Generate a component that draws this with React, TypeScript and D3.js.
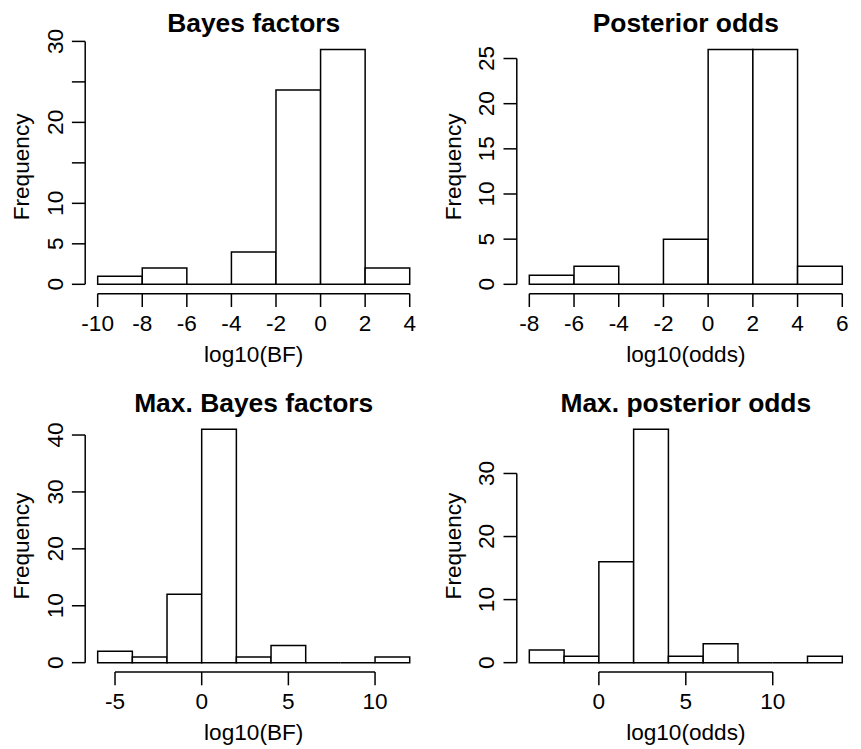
import React, { useEffect, useRef } from 'react';
import * as d3 from 'd3';

// histogram counts (bin width 2)
const bfBreakStart = -10;
const bfCounts = [1, 2, 0, 4, 24, 29, 2];
const oddsBreakStart = -8;
const oddsCounts = [1, 2, 0, 5, 26, 26, 2];
const maxBfBreakStart = -6;
const maxBfCounts = [2, 1, 12, 41, 1, 3, 0, 0, 1];
const maxOddsBreakStart = -4;
const maxOddsCounts = [2, 1, 16, 37, 1, 3, 0, 0, 1];
const binWidth = 2;

const titles = ['Bayes factors', 'Posterior odds', 'Max. Bayes factors', 'Max. posterior odds'];
const xLabels = ['log10(BF)', 'log10(odds)', 'log10(BF)', 'log10(odds)'];

const xTicks = [
	[-10, -8, -6, -4, -2, 0, 2, 4],
	[-8, -6, -4, -2, 0, 2, 4, 6],
	[-5, 0, 5, 10],
	[0, 5, 10]
];
const yTicks = [
	[0, 5, 10, 15, 20, 25, 30],
	[0, 5, 10, 15, 20, 25],
	[0, 10, 20, 30, 40],
	[0, 10, 20, 30]
];
// R drops labels that would overlap
const yTickLabels = [
	[0, 5, 10, 20, 30],
	[0, 5, 10, 15, 20, 25],
	[0, 10, 20, 30, 40],
	[0, 10, 20, 30]
];

const W = 861,
	H = 749;
const font = '"Liberation Sans", Arial, Helvetica, sans-serif';
const fs = 22.6;
const lw = 1.5;

const draw = (node: SVGSVGElement) => {
	const svg = d3.select(node);
	svg.selectAll('*').remove();

	const panels = [
		{ start: bfBreakStart, counts: bfCounts },
		{ start: oddsBreakStart, counts: oddsCounts },
		{ start: maxBfBreakStart, counts: maxBfCounts },
		{ start: maxOddsBreakStart, counts: maxOddsCounts }
	];

	// plot boxes of the 2x2 layout
	const cols = [ [ 85.2, 422.2 ], [ 516.8, 854.8 ] ];
	const rows = [ [ 40.1, 293.7 ], [ 420, 672 ] ];

	panels.forEach((p, i) => {
		const [ x0, x1 ] = cols[i % 2];
		const [ y0, y1 ] = rows[Math.floor(i / 2)];
		const breaks = d3.range(p.counts.length + 1).map((k) => p.start + k * binWidth);
		const lo = breaks[0],
			hi = breaks[breaks.length - 1];
		const pad = (hi - lo) * 0.04;
		const ymax = d3.max(p.counts) as number;

		const x = d3.scaleLinear().domain([ lo - pad, hi + pad ]).range([ x0, x1 ]);
		const y = d3.scaleLinear().domain([ -ymax * 0.04, ymax * 1.04 ]).range([ y1, y0 ]);

		const g = svg.append('g').attr('font-family', font).attr('fill', '#000');

		// bars as closed paths so empty bins still show a line at 0
		g
			.selectAll('path.bar')
			.data(p.counts)
			.join('path')
			.attr('class', 'bar')
			.attr('d', (d, k) => {
				const path = d3.path();
				path.rect(x(breaks[k]), y(d), x(breaks[k + 1]) - x(breaks[k]), y(0) - y(d));
				return path.toString();
			})
			.attr('fill', '#fff')
			.attr('stroke', '#000')
			.attr('stroke-width', lw);

		// x axis
		const xt = xTicks[i];
		g
			.append('line')
			.attr('x1', x(xt[0]))
			.attr('x2', x(xt[xt.length - 1]))
			.attr('y1', y1)
			.attr('y2', y1)
			.attr('stroke', '#000')
			.attr('stroke-width', lw);
		g
			.selectAll('line.xt')
			.data(xt)
			.join('line')
			.attr('class', 'xt')
			.attr('x1', (d) => x(d))
			.attr('x2', (d) => x(d))
			.attr('y1', y1)
			.attr('y2', y1 + 13.3)
			.attr('stroke', '#000')
			.attr('stroke-width', lw);
		g
			.selectAll('text.xl')
			.data(xt)
			.join('text')
			.attr('class', 'xl')
			.attr('x', (d) => x(d))
			.attr('y', y1 + 37)
			.attr('text-anchor', 'middle')
			.attr('font-size', fs)
			.text((d) => String(d));

		// y axis
		const yt = yTicks[i];
		g
			.append('line')
			.attr('x1', x0)
			.attr('x2', x0)
			.attr('y1', y(yt[0]))
			.attr('y2', y(yt[yt.length - 1]))
			.attr('stroke', '#000')
			.attr('stroke-width', lw);
		g
			.selectAll('line.yt')
			.data(yt)
			.join('line')
			.attr('class', 'yt')
			.attr('x1', x0)
			.attr('x2', x0 - 13.3)
			.attr('y1', (d) => y(d))
			.attr('y2', (d) => y(d))
			.attr('stroke', '#000')
			.attr('stroke-width', lw);
		g
			.selectAll('text.yl')
			.data(yTickLabels[i])
			.join('text')
			.attr('class', 'yl')
			.attr('transform', (d) => `translate(${x0 - 22.5},${y(d)}) rotate(-90)`)
			.attr('text-anchor', 'middle')
			.attr('font-size', fs)
			.text((d) => String(d));

		// titles
		const cx = (x0 + x1) / 2;
		g
			.append('text')
			.attr('x', cx)
			.attr('y', y0 - 8)
			.attr('text-anchor', 'middle')
			.attr('font-size', 26.4)
			.attr('font-weight', 'bold')
			.text(titles[i]);
		g
			.append('text')
			.attr('x', cx)
			.attr('y', y1 + 68)
			.attr('text-anchor', 'middle')
			.attr('font-size', fs)
			.text(xLabels[i]);
		g
			.append('text')
			.attr('transform', `translate(${x0 - 56},${(y0 + y1) / 2}) rotate(-90)`)
			.attr('text-anchor', 'middle')
			.attr('font-size', fs)
			.text('Frequency');
	});
};

const App = () => {
	const ref = useRef<SVGSVGElement>(null);
	useEffect(() => {
		if (ref.current) draw(ref.current);
	}, []);
	return (
		<svg
			ref={ref}
			width={W}
			height={H}
			style={{ position: 'absolute', left: 0, top: 0, background: '#fff', display: 'block' }}
		/>
	);
};

export default App;
